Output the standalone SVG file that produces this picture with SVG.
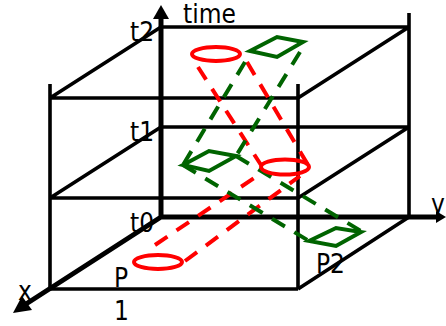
<svg xmlns="http://www.w3.org/2000/svg" width="446" height="326" viewBox="0 0 446 326">
<style>
.k{stroke:#000;stroke-width:3.6;fill:none}
.a{stroke:#000;stroke-width:5;fill:none}
.r{stroke:#f00;stroke-width:4;fill:none}
.rd{stroke:#f00;stroke-width:4;fill:none;stroke-dasharray:15 11}
.g{stroke:#006400;stroke-width:4;fill:none;stroke-linejoin:miter}
.gd{stroke:#006400;stroke-width:4;fill:none;stroke-dasharray:15 11}
text{font-family:"DejaVu Sans Condensed","DejaVu Sans",sans-serif;font-stretch:condensed;font-size:26px;fill:#000}
</style>
<g id="connectors">
<path class="k" d="M161 27H409M409 13V217M50 84V289M298 84V289M50 98H298M50 98L161 27M298 98L409 27"/>
<path class="k" d="M161 127H409M50 198H298M50 198L161 127M298 198L409 127"/>
<path class="k" d="M50 289H298M298 289L409 217"/>
<path class="a" d="M161 217V18M161 217H436M161 217L26 304"/>
<polygon points="161,5 153,19 169,19" fill="#000"/>
<polygon points="446,217 436,211 436,223" fill="#000"/>
<polygon points="13,313 22,296 32,310" fill="#000"/>
<path class="rd" d="M198 67L261 165"/>
<path class="rd" d="M247 62L308 165"/>
<path class="rd" d="M155 245L260 174"/>
<path class="rd" d="M185 261L300 176"/>
<path class="gd" d="M245 62L183 165"/>
<path class="gd" d="M300 52L236 156"/>
<path class="gd" d="M183 165L309 241"/>
<path class="gd" d="M236 156L361 231"/>
</g>
<g id="ellipse-t2"><ellipse class="r" cx="216" cy="54" rx="24" ry="7"/></g>
<g id="ellipse-t1"><ellipse class="r" cx="285" cy="167" rx="24" ry="7.5"/></g>
<g id="ellipse-t0"><ellipse class="r" cx="158" cy="262" rx="24" ry="7"/></g>
<g id="para-t2"><polygon class="g" points="250,51 277,37 303,42 277,57"/></g>
<g id="para-t1"><polygon class="g" points="183,165 209,151 236,156 209,171"/></g>
<g id="para-t0"><polygon class="g" points="309,241 336,228 361,232 336,246"/></g>
<g id="labels">
<text x="183" y="23">time</text>
<text x="130" y="41">t2</text>
<text x="130" y="141">t1</text>
<text x="130" y="232">t0</text>
<text x="114" y="287">P</text>
<text x="114" y="320">1</text>
<text x="316" y="273">P2</text>
<text x="18" y="300">x</text>
<text x="431" y="213">y</text>
</g>
</svg>
